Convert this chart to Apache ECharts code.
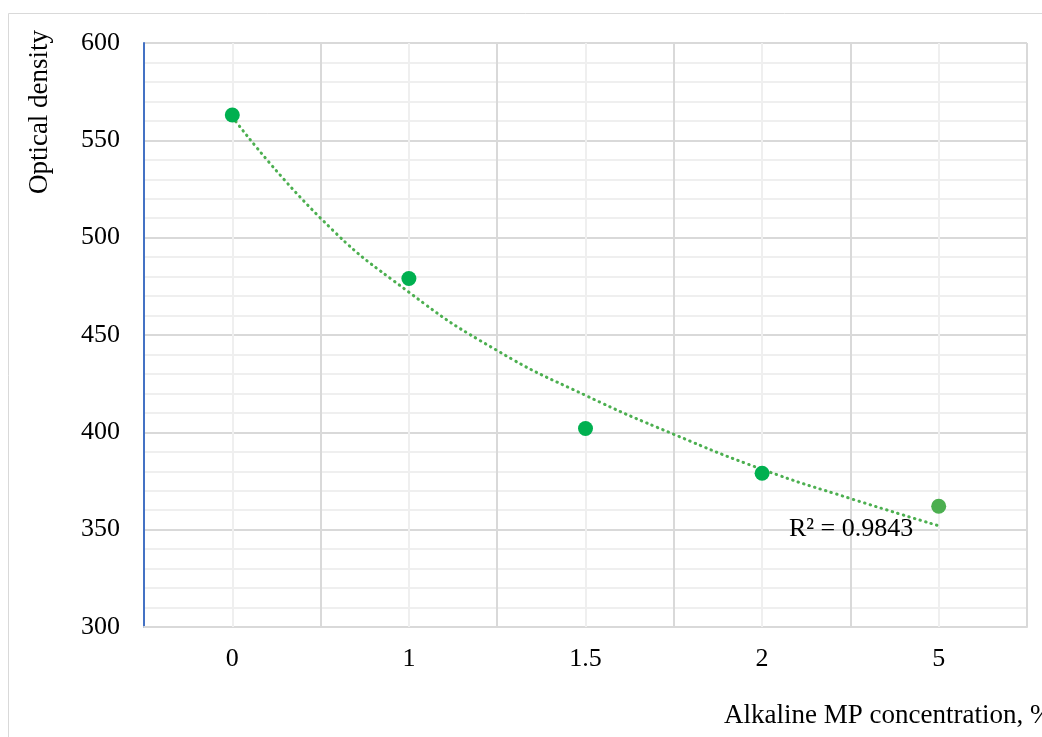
<!DOCTYPE html>
<html>
<head>
<meta charset="utf-8">
<script src="https://cdn.jsdelivr.net/npm/echarts@6/dist/echarts.min.js"></script>
<style>html,body{margin:0;padding:0;background:#fff}#c{width:1042px;height:737px}</style>
</head>
<body>
<div id="c"></div>
<script>
const categories = ['0', '1', '1.5', '2', '5'];
const opticalDensity = [563, 479, 402, 379, 362];
// trendline values at category positions 1..5 (half steps)
const trendX = [1, 1.5, 2, 2.5, 3, 3.5, 4, 4.5, 5];
const trendY = [562, 510, 472, 442, 419, 399, 381, 366, 352];
const rSquaredText = 'R² = 0.9843';
const yTitle = 'Optical density';
const xTitle = 'Alkaline MP concentration, %';

const font = '"Liberation Serif", "Times New Roman", serif';
const fs = 26;
const tfs = 27;
const chart = echarts.init(document.getElementById('c'));
chart.setOption({
  backgroundColor: '#fff',
  animation: false,
  grid: { left: 144, right: 15, top: 43, bottom: 110 },
  graphic: [
    { type: 'rect', shape: { x: 8.5, y: 13.5, width: 1100, height: 800 },
      style: { fill: 'none', stroke: '#D9D9D9', lineWidth: 1 }, z: -1 },
    { type: 'text', x: 26, y: 112, rotation: Math.PI / 2,
      style: { text: yTitle, font: tfs + 'px ' + font, fill: '#000', align: 'center', verticalAlign: 'top' } },
    { type: 'text', x: 724, y: 716,
      style: { text: xTitle, font: tfs + 'px ' + font, fill: '#000', align: 'left', verticalAlign: 'middle' } }
  ],
  xAxis: [
    { type: 'category', data: categories, boundaryGap: true,
      axisLine: { show: true, lineStyle: { color: '#D9D9D9', width: 2 } },
      axisTick: { show: false },
      axisLabel: { fontFamily: font, fontSize: fs, color: '#000', margin: 19 },
      splitLine: { show: true, lineStyle: { color: '#D9D9D9', width: 2 } } },
    { type: 'value', min: 0.5, max: 5.5, show: false }
  ],
  yAxis: {
    type: 'value', min: 300, max: 600, interval: 50,
    axisLine: { show: true, lineStyle: { color: '#4472C4', width: 2 } },
    axisTick: { show: false },
    axisLabel: { fontFamily: font, fontSize: fs, color: '#000', margin: 24 },
    splitLine: { show: true, lineStyle: { color: '#D9D9D9', width: 2 } },
    minorTick: { show: false, splitNumber: 5 },
    minorSplitLine: { show: true, lineStyle: { color: '#EFEFEF', width: 2 } }
  },
  series: [
    { type: 'line', xAxisIndex: 0, data: [], silent: true, z: 1,
      markLine: { silent: true, z: 1, symbol: 'none', label: { show: false },
        lineStyle: { color: '#EFEFEF', width: 2, type: 'solid' },
        data: categories.map(c => ({ xAxis: c })) } },
    { type: 'line', xAxisIndex: 1, smooth: true, showSymbol: false, symbol: 'none', z: 3,
      lineStyle: { color: '#4CAF50', width: 3, type: [0.5, 5.3], cap: 'round' },
      data: trendX.map((x, i) => [x, trendY[i]]) },
    { type: 'scatter', xAxisIndex: 0, symbolSize: 15, z: 4,
      itemStyle: { color: '#00B050', opacity: 1 },
      data: opticalDensity.map((v, i) => i === opticalDensity.length - 1
        ? { value: v, itemStyle: { color: '#4CAF50', opacity: 1 },
            label: { show: true, position: 'left', distance: 18, offset: [0, 23],
              formatter: rSquaredText, fontFamily: font, fontSize: fs, color: '#000' } }
        : v) }
  ]
});
</script>
</body>
</html>
